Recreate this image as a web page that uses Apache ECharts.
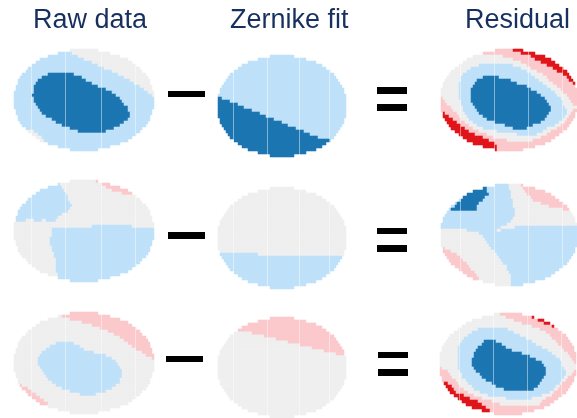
<!DOCTYPE html>
<html><head><meta charset="utf-8">
<style>html,body{margin:0;padding:0;background:#fff}#c{width:577px;height:418px}</style>
<script src="https://cdn.jsdelivr.net/npm/echarts@6/dist/echarts.min.js"></script>
</head><body><div id="c"></div>
<script>
const columnTitles = ['Raw data', 'Zernike fit', 'Residual'];
const levelColors = {G:'#efefef', L:'#bfe1f9', D:'#1c76b1', P:'#fbc9cb', R:'#e0141b'};
const levelOrder = ['R','P','G','L','D'];

// half-width of the measured aperture per sample row, one list per figure column
const widthRaw = [13,26,36,43,48,52,55,58,61,63,65,66,67,68,69,69,70,70,69,69,68,67,66,65,63,61,58,55,52,48,43,36,26,13];
const widthFit = [12,24,33,39,44,47,51,53,56,58,59,61,62,63,63,64,64,64,64,63,63,62,61,59,58,56,53,51,47,44,39,33,24,12];
const widthRes = [13,25,35,42,46,50,54,57,59,61,63,65,66,67,67,68,68,68,68,67,67,66,65,63,61,59,57,54,50,46,42,35,25,13];

// each row: level, sample where it ends, next level ... last level runs to the edge
const raw1 = ['L50G','L58G','L64G','L71G','L78G','L84G','L91G','L98G','L34D61L104G','L29D68L111G','L25D73L116G','L23D79L121G','L21D85L126G','L20D93L131G','L20D98L134G','L19D103L138G','L20D106L','L20D109L','L22D111L','L24D114L','L26D115L','L29D116L','L33D116L','L38D115L','L43D111L','L49D106L','L57D100L','G21L65D93L','G24L','G29L','G30L','L','L','L'];
const fit1 = ['L','L','L','L','L','L','L','L','L','L','L','L','L','L','D5L','D12L','D20L','D27L','D34L','D42L','D49L','D57L','D64L','D71L','D79L','D86L','D93L','D101L','D','D','D','D','D','D'];
const res1 = ['P72R','P81R','G62P91R','G72P95R','G81P101R','G39L72G86P106R','G31L81G91P112R','G26L87G96P117R','G22L91G102P122R','G21L42D59L94G106P126R','G20L37D71L99G109P129R','G19L34D77L102G113P132R','G18L32D86L106G116P','G18L31D91L111G120P','G18L30D96L114G122P','G18L30D101L117G126P','P3G19L30D105L120G128P','P5G20L31D107L122G131P','P7G21L32D109L123G133P','P10G22L34D110L125G','P12G23L36D110L126G133P','R4P16G24L39D109L126G131P','R9P18G26L42D107L124G129P','R12P21G28L47D104L122G126P','R16P25G32L54D101L119G124P','R20P28G36L64D92L114G121P','R24P33G42L72D87L107G116P','R29P39G56L102G111P','R35P46G76L97G106P','R42P53G101P','R49P66G92P','R54P','R56P','R56P'];

const raw2 = ['G83P','L46G88P','L49G92P','L50G99P','L52G109P','L54G','L55G','L57G','L58G','L57G','L54G','L48G','L45G','G3L12G20L28G32L42G','G','G78L119G','G39L','G38L','G38L','G37L','G37L','G37L','G39L','G39L','G40L','G41L','G42L','G42L','G43L','G43L','G43L','G44L','G44L','L'];
const fit2 = ['G','G','G','G','G','G','G','G','G','G','G','G','G','G','G','G','G','G','G','G','G','G','L40G','L','L','L','L','L','L','L','L','L','L','L'];
const res2 = ['L69G81P','L41D47L69G83P','L33D47L70G84P','L27D48L70G86P','L23D45L71G90P','L20D43L72G92P','L17D39L72G101P','L14D37L73G109P','L10D36L74G122P','L74G','L74G','L72G','L71G','L67G','L61G75L','G26L57G61L','G39L','G42L','G45L','G46L','G48L','P4G50L','P11G54L','P16G56L','P20G58L','P23G61L','P26G63L','P28G66L','P31G67L','P34G69L','P37G70L','P39G70L','G70L','G70L'];

const raw3 = ['P','G49P','G56P','G69P','G78P','G86P','G94P','G101P','G107P','G110P','G43L60G114P','G36L66G119P','G33L71G123P','G29L81G129P','G27L93G133P','G25L99G138P','G25L103G','G25L105G','G27L107G','G29L108G','G30L109G','G33L108G','G35L107G','G39L106G','P9G43L103G','P14G49L99G','P18G57L93G','P23G66L83G','P26G','P30G','P34G','G','G','G'];
const fit3 = ['P','P','P','P','P','G34P','G46P','G58P','G70P','G82P','G94P','G106P','G118P','G','G','G','G','G','G','G','G','G','G','G','G','G','G','G','G','G','G','G','G','G'];
const res3 = ['G60P','G66P93R','G75P99R','G83P105R','G92P112R','G38L68G100P','G33L75G107P','G28L80G110P','G24L86G113P','G22L45D57L92G117P','G20L43D62L97G119P','G19L39D67L102G122P','G18L37D72L108G124P','G18L35D82L113G128P','G18L34D90L117G130P','G18L33D97L120G133P','G18L33D103L122G135P','G18L33D105L123G','P3G19L35D107L125G','P8G20L37D107L126G134P','P11G22L40D107L126G132P','P13G23L43D105L124G129P','P16G26L47D103L122G127P','R9P18G28L53D101L120G123P','R12P21G32L57D98L117G120P','R15P24G35L65D95L115G118P','R17P29G40L110G115P','R25P35G49L102G112P','R31P43G67L93G107P','R38P53G102P','R43P60G100P','R47P','R50P','P'];

const seamsRaw = [17, 50, 86, 121];
const seamsFit = [15, 49, 80, 111];
const seamsRes = [18, 52, 87, 121];

const panels = [
  {rows:raw1, w:widthRaw, seams:seamsRaw, left:14,  top:49,  span:140},
  {rows:fit1, w:widthFit, seams:seamsFit, left:218, top:55,  span:128},
  {rows:res1, w:widthRes, seams:seamsRes, left:441, top:49,  span:136},
  {rows:raw2, w:widthRaw, seams:seamsRaw, left:14,  top:180, span:140},
  {rows:fit2, w:widthFit, seams:seamsFit, left:218, top:187, span:128},
  {rows:res2, w:widthRes, seams:seamsRes, left:441, top:184, span:136},
  {rows:raw3, w:widthRaw, seams:seamsRaw, left:14,  top:312, span:140},
  {rows:fit3, w:widthFit, seams:seamsFit, left:218, top:317, span:128},
  {rows:res3, w:widthRes, seams:seamsRes, left:440, top:313, span:136}
];

function levelAt(row, s){
  const parts = [...row.matchAll(/([GLDPR])(\d*)/g)];
  for (const p of parts){ if (p[2]==='' || s < +p[2]) return p[1]; }
  return parts[parts.length-1][1];
}
const grid=[], xAxis=[], yAxis=[], series=[];
panels.forEach((p,i)=>{
  const cols = p.span/2, nRows = p.rows.length, mid = p.span/2, cells=[];
  p.rows.forEach((row,r)=>{
    for(let c=0;c<cols;c++){
      const s = c*2+1;
      if(Math.abs(s-mid) <= p.w[r]) cells.push([c,r,levelOrder.indexOf(levelAt(row,s))]);
    }
  });
  grid.push({left:p.left, top:p.top, width:p.span, height:nRows*3, containLabel:false});
  xAxis.push({type:'category', gridIndex:i, show:false, data:Array.from({length:cols},(_,k)=>k)});
  yAxis.push({type:'category', gridIndex:i, show:false, inverse:true, data:Array.from({length:nRows},(_,k)=>k)});
  series.push({type:'heatmap', xAxisIndex:i, yAxisIndex:i, data:cells, silent:true, progressive:0, animation:false,
    markLine:{silent:true, symbol:'none', animation:false, label:{show:false},
      lineStyle:{color:'rgba(255,255,255,0.45)', width:1, type:'solid'},
      data:p.seams.map(s=>({xAxis:Math.floor(s/2)}))}});
});
const bar=(x,y,w,h)=>({type:'rect', shape:{x,y,width:w,height:h}, style:{fill:'#000'}, silent:true});
const titlePos=[{left:33},{left:230},{left:465}];
echarts.init(document.getElementById('c'),null,{renderer:'canvas'}).setOption({
  animation:false, backgroundColor:'#fff',
  title:columnTitles.map((t,i)=>({text:t, left:titlePos[i].left, top:7, padding:0,
    textStyle:{fontFamily:'Liberation Sans', fontSize:27, fontWeight:'normal', color:'#17305f'}})),
  tooltip:{show:false},
  visualMap:{type:'piecewise', show:false, dimension:2, seriesIndex:series.map((_,i)=>i),
    pieces:levelOrder.map((k,i)=>({value:i, color:levelColors[k]}))},
  grid, xAxis, yAxis, series,
  graphic:[
    bar(168,91,37,6), bar(168,232,37,7), bar(166,356,37,6),
    bar(377,87,30,7), bar(377,104,30,7),
    bar(377,228,30,6), bar(377,245,30,7),
    bar(378,352,30,6), bar(378,369,30,7)
  ]
});
</script></body></html>
